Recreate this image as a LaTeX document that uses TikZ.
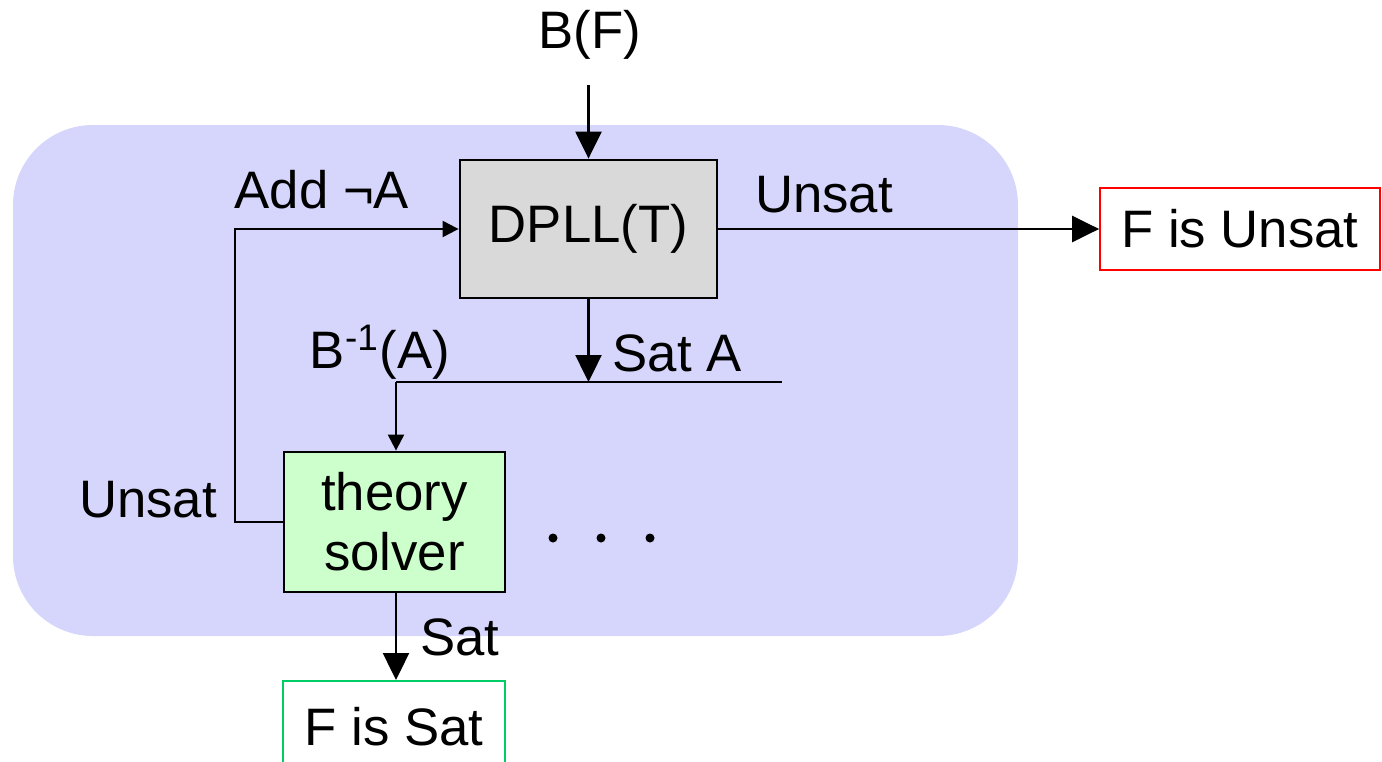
\documentclass[tikz,border=0pt]{standalone}
\usepackage{fontspec}
\setmainfont{Liberation Sans}
\usetikzlibrary{arrows.meta}
\definecolor{lavender}{RGB}{214,214,252}
\definecolor{boxgray}{RGB}{217,217,217}
\definecolor{solvergreen}{RGB}{204,255,204}
\definecolor{satgreen}{RGB}{0,204,102}

\begin{document}
\begin{tikzpicture}[
		every node/.style={font=\fontsize{15}{17}\selectfont},
		blk/.style={draw,line width=0.8pt,inner sep=0pt},
		res/.style={draw,line width=0.5pt,fill=white,inner sep=0pt},
		big/.style={line width=0.7pt,-{Triangle[length=2.7mm,width=2.6mm]}},
		small/.style={line width=0.6pt,-{Triangle[length=1.6mm,width=1.6mm]}}]
		\useasboundingbox (0,0) rectangle (13.82,-7.62);
		\clip (0,0) rectangle (13.82,-7.62);
		% the loop area
		\fill [lavender,rounded corners=8mm] (0.13,-1.25) rectangle (10.18,-6.36);
		\node [blk,fill=boxgray,minimum width=2.57cm,minimum height=1.38cm] (dpll) at (5.885,-2.29) {DPLL(T)};
		\node [blk,fill=solvergreen,minimum width=2.21cm,minimum height=1.40cm,align=center] (theory) at (3.945,-5.22) {theory\\solver};
		\node [res,draw=red,minimum width=2.80cm,minimum height=0.82cm] (unsatbox) at (12.40,-2.29) {F is Unsat};
		\node [res,draw=satgreen,minimum width=2.22cm,minimum height=0.92cm,anchor=north] (satbox) at (3.94,-6.80) {F is Sat};
		% labels
		\node (bf) at (5.90,-0.35) {B(F)};
		\node (addneg) at (3.22,-1.90) {Add ¬A};
		\node (unsatr) at (8.24,-1.95) {Unsat};
		\node (binv) at (3.80,-3.52) {B\textsuperscript{-1}(A)};
		\node (sata) at (6.77,-3.53) {Sat A};
		\node (unsatl) at (1.48,-5.00) {Unsat};
		\node (sat) at (4.60,-6.37) {Sat};
		\coordinate (top) at (5.885,-0.85);
		\coordinate (split) at (5.885,-3.82);
		\coordinate (branch) at (3.96,-3.82);
		\coordinate (lineend) at (7.82,-3.82);
		% connectors
		\draw [big] (top) -- (dpll.north);
		\draw [big] (dpll.east) -- (unsatbox.west);
		\draw [big] (dpll.south) -- (split);
		\draw [line width=0.6pt] (branch) -- (lineend);
		\draw [small] (branch) -- (branch |- theory.north);
		\draw [small] (theory.west) -- ++(-0.48,0) |- (dpll.west);
		\draw [big] (branch |- theory.south) -- (branch |- satbox.north);
		\foreach \x in {5.53,6.01,6.50}
			\fill (\x,-5.38) circle (0.045);
	\end{tikzpicture}
\end{document}
